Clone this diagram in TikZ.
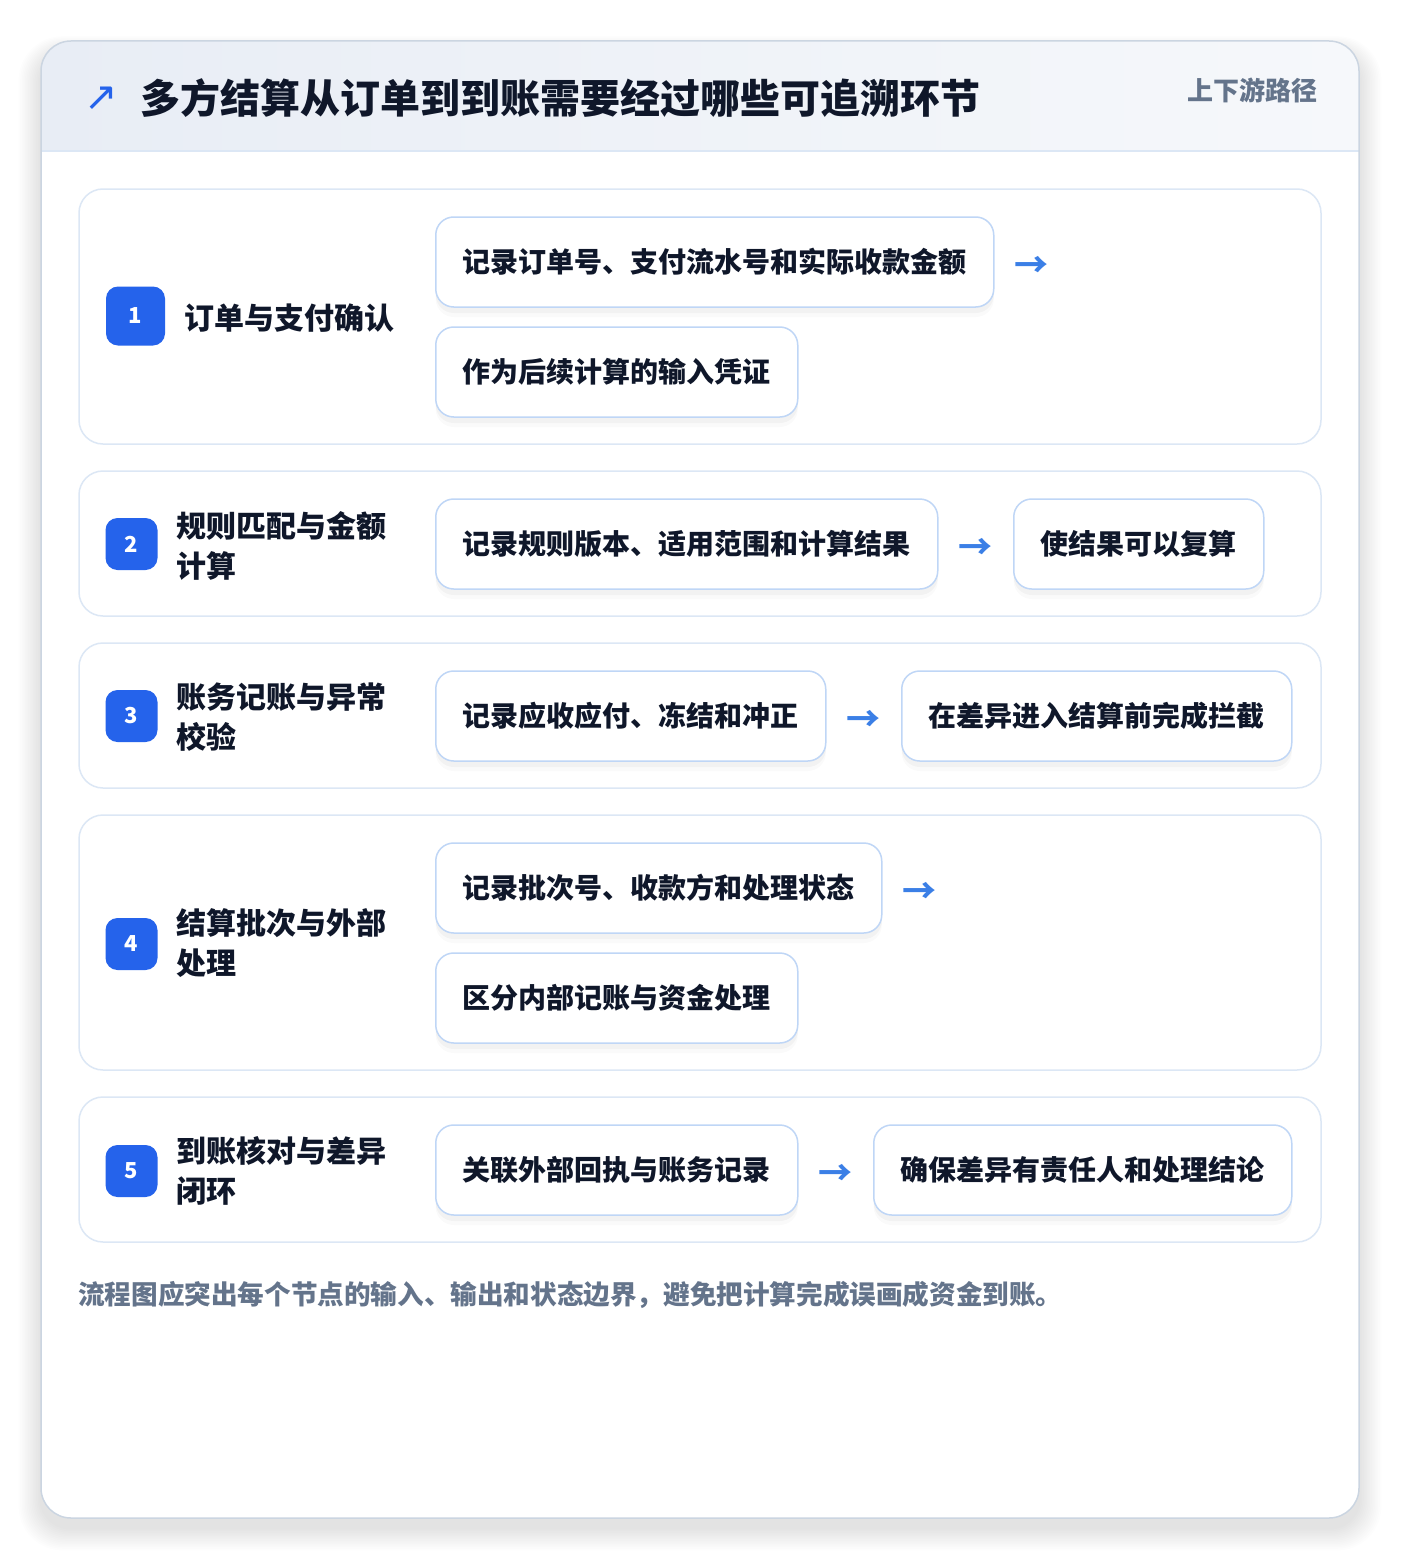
\documentclass[tikz,border=0pt]{standalone}
\usepackage{fontspec}
\setmainfont{Noto Sans CJK SC}
\newfontfamily\symfont{DejaVu Sans}

\definecolor{ink}{HTML}{0F172A}
\definecolor{muted}{HTML}{64748B}
\definecolor{badgeblue}{HTML}{2563EB}
\definecolor{arrowblue}{HTML}{3B7FE6}
\definecolor{cardline}{HTML}{DCE7F5}
\definecolor{boxline}{HTML}{BFD6F6}
\definecolor{frameline}{HTML}{CBD5E1}
\definecolor{headleft}{HTML}{E8EDF5}
\definecolor{headright}{HTML}{F6F8FB}

\tikzset{
  frame/.style={draw=frameline,fill=white,line width=1.5pt,rounded corners=30pt},
  card/.style={draw=cardline,fill=white,line width=1.5pt,rounded corners=24pt},
  badge/.style={fill=badgeblue,text=white,rounded corners=12pt,minimum size=52pt,
    inner sep=0pt,font=\fontsize{22}{22}\selectfont\bfseries},
  stage/.style={anchor=west,inner sep=0pt,align=left,text=ink,
    font=\fontsize{30}{40}\selectfont\bfseries},
  item/.style={anchor=west,draw=boxline,fill=white,rounded corners=18pt,line width=1.5pt,
    minimum height=90pt,inner xsep=27pt,inner ysep=0pt,text=ink,
    font=\fontsize{28}{28}\selectfont\bfseries,
    preaction={fill=black,opacity=.03,transform canvas={yshift=-6pt}},
    preaction={fill=black,opacity=.02,transform canvas={yshift=-10pt}}},
  flow/.style={text=arrowblue,inner sep=0pt,font=\fontsize{34}{34}\selectfont\bfseries}
}

\begin{document}
\begin{tikzpicture}[x=1pt,y=-1pt]
    \useasboundingbox (0,0) rectangle (1400,1560);
    % soft shadow under the frame
    \foreach \g in {1,...,14}
        \fill [black,opacity=.006,rounded corners=30pt+\g pt]
            (41-1.6*\g,41-1.2*\g+12) rectangle (1359+1.6*\g,1518+1.6*\g+10);
    % outer frame and header band
    \fill [white,rounded corners=30pt] (41,41) rectangle (1359,1518);
    \begin{scope}
        \clip [rounded corners=30pt] (41,41) rectangle (1359,1518);
        \shade [left color=headleft,right color=headright] (41,41) rectangle (1359,151);
    \end{scope}
    \draw [cardline,line width=1.5pt] (41,151) -- (1359,151);
    \draw [frameline,line width=1.5pt,rounded corners=30pt] (41,41) rectangle (1359,1518);

    \node (icon) at (101,99) [text=badgeblue,font=\fontsize{40}{40}\selectfont\symfont] {↗};
    \node (title) at (140,98) [anchor=west,inner sep=0pt,text=ink,font=\fontsize{40}{40}\selectfont\bfseries]
        {多方结算从订单到到账需要经过哪些可追溯环节};
    \node (tag) at (1318,90) [anchor=east,inner sep=0pt,text=muted,font=\fontsize{26}{26}\selectfont\bfseries]
        {上下游路径};

    % row cards
    \draw [card] (79,189) rectangle (1321,444);
    \draw [card] (79,471) rectangle (1321,616);
    \draw [card] (79,643) rectangle (1321,788);
    \draw [card] (79,815) rectangle (1321,1070);
    \draw [card] (79,1097) rectangle (1321,1242);

    % 1
    \node (b1) at (135.5,316) [badge,minimum size=59pt] {1};
    \node (s1) at (184,318) [stage] {订单与支付确认};
    \node (r1a) at (435,262) [item] {记录订单号、支付流水号和实际收款金额};
    \node (r1b) at (435,372) [item] {作为后续计算的输入凭证};
    \node (f1) at (1031,267) [flow] {→};

    % 2
    \node (b2) at (131.5,544) [badge] {2};
    \node (s2) at (176,546) [stage] {规则匹配与金额\\计算};
    \node (r2a) at (435,544) [item] {记录规则版本、适用范围和计算结果};
    \node (f2) at (975,549) [flow] {→};
    \node (r2b) at (1013,544) [item] {使结果可以复算};

    % 3
    \node (b3) at (131.5,716) [badge] {3};
    \node (s3) at (176,717) [stage] {账务记账与异常\\校验};
    \node (r3a) at (435,716) [item] {记录应收应付、冻结和冲正};
    \node (f3) at (863,721) [flow] {→};
    \node (r3b) at (901,716) [item] {在差异进入结算前完成拦截};

    % 4
    \node (b4) at (131.5,944) [badge] {4};
    \node (s4) at (176,943) [stage] {结算批次与外部\\处理};
    \node (r4a) at (435,888) [item] {记录批次号、收款方和处理状态};
    \node (r4b) at (435,998) [item] {区分内部记账与资金处理};
    \node (f4) at (919,893) [flow] {→};

    % 5
    \node (b5) at (131.5,1171) [badge] {5};
    \node (s5) at (176,1171) [stage] {到账核对与差异\\闭环};
    \node (r5a) at (435,1170) [item] {关联外部回执与账务记录};
    \node (f5) at (835,1175) [flow] {→};
    \node (r5b) at (873,1170) [item] {确保差异有责任人和处理结论};

    \node (note) at (78,1295) [anchor=west,inner sep=0pt,text=muted,font=\fontsize{26.6}{26.6}\selectfont\bfseries]
        {流程图应突出每个节点的输入、输出和状态边界，避免把计算完成误画成资金到账。};
\end{tikzpicture}
\end{document}
